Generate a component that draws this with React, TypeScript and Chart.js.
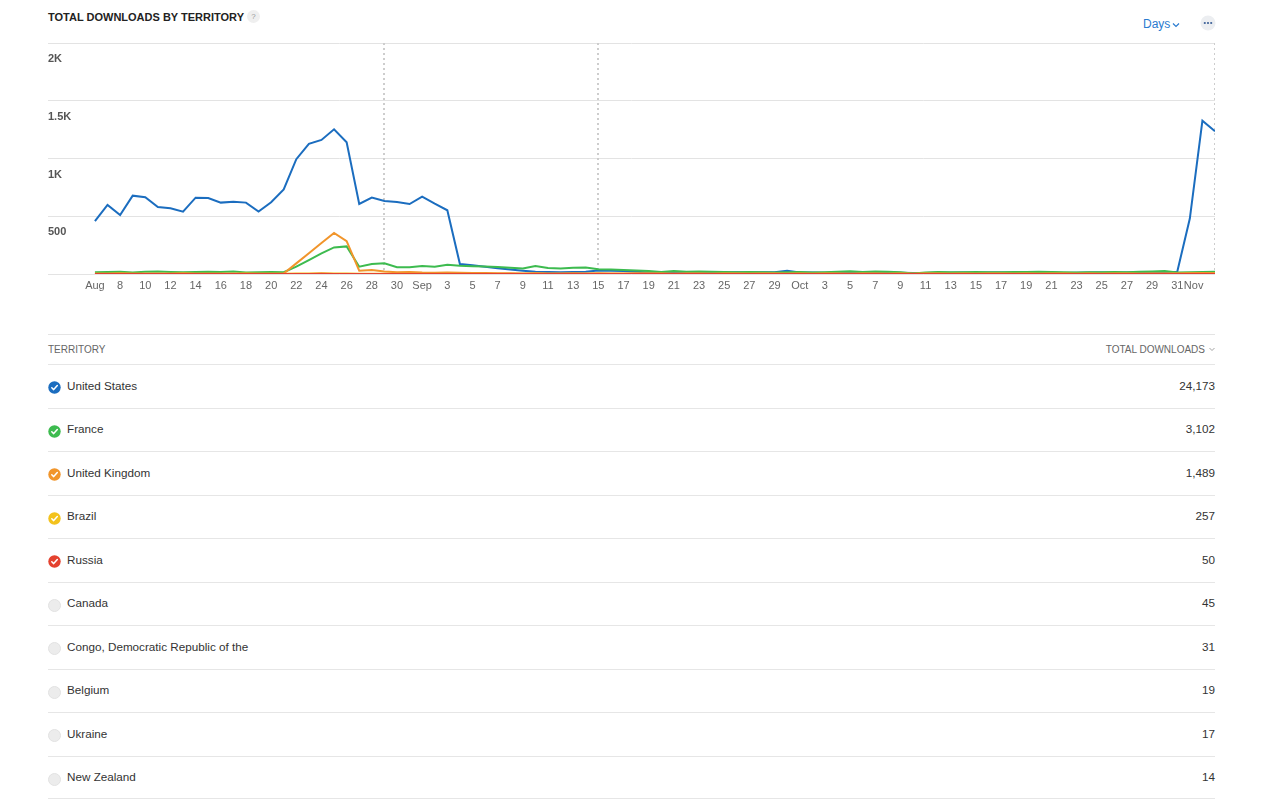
import React, { useEffect, useRef } from "react";
import { Chart, registerables } from "chart.js";

Chart.register(...registerables);

const FONT = '"Liberation Sans", "Helvetica Neue", Helvetica, Arial, sans-serif';

// Days on the x axis (Aug 6 – Nov 3)
const categories = [
  "Aug 6", "Aug 7", "Aug 8", "Aug 9", "Aug 10", "Aug 11", "Aug 12", "Aug 13", "Aug 14", "Aug 15",
  "Aug 16", "Aug 17", "Aug 18", "Aug 19", "Aug 20", "Aug 21", "Aug 22", "Aug 23", "Aug 24", "Aug 25",
  "Aug 26", "Aug 27", "Aug 28", "Aug 29", "Aug 30", "Aug 31",
  "Sep 1", "Sep 2", "Sep 3", "Sep 4", "Sep 5", "Sep 6", "Sep 7", "Sep 8", "Sep 9", "Sep 10",
  "Sep 11", "Sep 12", "Sep 13", "Sep 14", "Sep 15", "Sep 16", "Sep 17", "Sep 18", "Sep 19", "Sep 20",
  "Sep 21", "Sep 22", "Sep 23", "Sep 24", "Sep 25", "Sep 26", "Sep 27", "Sep 28", "Sep 29", "Sep 30",
  "Oct 1", "Oct 2", "Oct 3", "Oct 4", "Oct 5", "Oct 6", "Oct 7", "Oct 8", "Oct 9", "Oct 10",
  "Oct 11", "Oct 12", "Oct 13", "Oct 14", "Oct 15", "Oct 16", "Oct 17", "Oct 18", "Oct 19", "Oct 20",
  "Oct 21", "Oct 22", "Oct 23", "Oct 24", "Oct 25", "Oct 26", "Oct 27", "Oct 28", "Oct 29", "Oct 30",
  "Oct 31", "Nov 1", "Nov 2", "Nov 3",
];

// Dates that carry an x tick label, and their texts
const tickDates = [
  "Aug 6", "Aug 8", "Aug 10", "Aug 12", "Aug 14", "Aug 16", "Aug 18", "Aug 20", "Aug 22", "Aug 24",
  "Aug 26", "Aug 28", "Aug 30",
  "Sep 1", "Sep 3", "Sep 5", "Sep 7", "Sep 9", "Sep 11", "Sep 13", "Sep 15", "Sep 17", "Sep 19",
  "Sep 21", "Sep 23", "Sep 25", "Sep 27", "Sep 29",
  "Oct 1", "Oct 3", "Oct 5", "Oct 7", "Oct 9", "Oct 11", "Oct 13", "Oct 15", "Oct 17", "Oct 19",
  "Oct 21", "Oct 23", "Oct 25", "Oct 27", "Oct 29", "Oct 31",
  "Nov 1",
];
const tickTexts = [
  "Aug", "8", "10", "12", "14", "16", "18", "20", "22", "24", "26", "28", "30",
  "Sep", "3", "5", "7", "9", "11", "13", "15", "17", "19", "21", "23", "25", "27", "29",
  "Oct", "3", "5", "7", "9", "11", "13", "15", "17", "19", "21", "23", "25", "27", "29", "31",
  "Nov",
];

// Version markers (dotted vertical lines)
const markerDates = ["Aug 29", "Sep 15", "Nov 3"];

// Y axis
const yTickValues = [0, 500, 1000, 1500, 2000];
const yTickLabels = ["", "500", "1K", "1.5K", "2K"];

// Series values per day
const unitedStates = [
  457, 598, 511, 678, 664, 580, 569, 540, 661, 658, 618, 626, 618, 540, 621, 733, 994, 1127, 1161, 1253,
  1141, 606, 661, 632, 624, 606,
  670, 609, 552, 86, 75, 62, 50, 38, 28, 20, 18, 16, 18, 20, 30, 28, 25, 20, 14, 14,
  16, 14, 12, 15, 13, 16, 14, 15, 15, 28,
  12, 14, 10, 12, 15, 12, 13, 12, 10, 8, 9, 11, 10, 12, 11, 13, 12, 10, 11, 12,
  10, 9, 11, 13, 12, 10, 14, 12, 13, 15, 20,
  480, 1328, 1235,
];
const france = [
  16, 18, 20, 14, 20, 22, 18, 16, 18, 20, 18, 22, 14, 16, 18, 15, 63, 121, 178, 230,
  239, 63, 86, 92, 59, 59,
  69, 63, 80, 72, 68, 65, 60, 55, 48, 70, 52, 48, 55, 57, 42, 38, 35, 30, 25, 18,
  25, 20, 22, 20, 18, 16, 18, 15, 14, 16,
  18, 14, 16, 20, 24, 18, 22, 20, 16, 5, 14, 18, 16, 15, 17, 16, 15, 18, 17, 19,
  18, 16, 14, 15, 16, 18, 16, 20, 22, 26, 14,
  16, 18, 20,
];
const unitedKingdom = [
  3, 2, 4, 2, 3, 2, 3, 4, 2, 3, 2, 3, 2, 3, 2, 4, 92, 180, 268, 356,
  284, 29, 34, 22, 15, 18,
  12, 10, 12, 10, 9, 8, 6, 7, 5, 6, 5, 4, 6, 5, 7, 5, 4, 6, 5, 4,
  3, 5, 4, 3, 5, 4, 3, 4, 5, 3,
  4, 3, 5, 4, 3, 4, 5, 3, 4, 3, 4, 5, 3, 4, 3, 5, 4, 3, 4, 3,
  5, 4, 3, 4, 3, 5, 4, 3, 4, 5, 4,
  6, 8, 7,
];
const brazil = [
  2, 3, 4, 3, 2, 3, 3, 4, 2, 3, 3, 2, 4, 3, 3, 2, 4, 5, 6, 5,
  4, 3, 3, 2, 3, 4,
  3, 2, 3, 4, 3, 2, 3, 3, 2, 4, 3, 2, 3, 3, 2, 3, 2, 3, 4, 2,
  3, 2, 3, 3, 2, 3, 2, 3, 2, 3,
  2, 3, 3, 2, 3, 2, 3, 2, 2, 3, 3, 2, 3, 2, 3, 3, 2, 3, 2, 2,
  3, 3, 2, 3, 2, 3, 2, 3, 3, 2, 3,
  4, 3, 4,
];
const russia = [
  1, 0, 1, 0, 1, 1, 0, 1, 0, 0, 1, 0, 1, 0, 1, 0, 1, 1, 2, 1,
  1, 0, 1, 0, 1, 0,
  1, 0, 1, 0, 0, 1, 0, 1, 0, 1, 0, 0, 1, 0, 1, 0, 1, 0, 0, 1,
  0, 1, 0, 0, 1, 0, 1, 0, 0, 1,
  0, 1, 0, 0, 1, 0, 1, 0, 0, 1, 0, 0, 1, 0, 1, 0, 0, 1, 0, 1,
  0, 0, 1, 0, 0, 1, 0, 1, 0, 0, 1,
  1, 1, 0,
];

const seriesNames = ["United States", "France", "United Kingdom", "Brazil", "Russia"];
const seriesValues = [unitedStates, france, unitedKingdom, brazil, russia];
const seriesColors = ["#1b6dbf", "#3dbb4f", "#f1952b", "#f3c21c", "#e4422f"];
const seriesOrder = [4, 3, 1, 2, 0];

// Table
const territoryNames = [
  "United States", "France", "United Kingdom", "Brazil", "Russia", "Canada",
  "Congo, Democratic Republic of the", "Belgium", "Ukraine", "New Zealand",
];
const territoryTotals = ["24,173", "3,102", "1,489", "257", "50", "45", "31", "19", "17", "14"];
const territoryColors = ["#1b6dbf", "#3dbb4f", "#f1952b", "#f3c21c", "#e4422f", null, null, null, null, null];

const X_LEFT_PAD_DAYS = 3.73;

const markerPlugin = {
  id: "versionMarkers",
  beforeDatasetsDraw(chart: any) {
    const { ctx, chartArea, scales } = chart;
    const x = scales.x;
    ctx.save();
    ctx.strokeStyle = "#cdcdcd";
    ctx.lineWidth = 2;
    ctx.setLineDash([2, 3]);
    markerDates.forEach((d) => {
      const px = Math.round(x.getPixelForValue(categories.indexOf(d)));
      ctx.beginPath();
      ctx.moveTo(px, chartArea.top);
      ctx.lineTo(px, chartArea.bottom);
      ctx.stroke();
    });
    ctx.restore();
  },
};

function CheckIcon({ color }: { color: string | null }) {
  if (!color) {
    return (
      <svg width="13" height="13" viewBox="0 0 13 13">
        <circle cx="6.5" cy="6.5" r="6" fill="#ececec" stroke="#e2e2e2" strokeWidth="1" />
      </svg>
    );
  }
  return (
    <svg width="13" height="13" viewBox="0 0 13 13">
      <circle cx="6.5" cy="6.5" r="6.2" fill={color} />
      <polyline points="3.8,6.8 5.7,8.6 9.3,4.6" fill="none" stroke="#fff" strokeWidth="1.5" strokeLinecap="round" strokeLinejoin="round" />
    </svg>
  );
}

export default function App() {
  const canvasRef = useRef<HTMLCanvasElement | null>(null);

  useEffect(() => {
    const canvas = canvasRef.current;
    if (!canvas) return;
    const tickIndexes = tickDates.map((d, i) => {
      const idx = categories.indexOf(d);
      const prev = i > 0 ? categories.indexOf(tickDates[i - 1]) : -10;
      // nudge a label that sits only one day after the previous one
      return idx - prev === 1 ? idx + 0.3 : idx;
    });
    const chart = new Chart(canvas, {
      type: "line",
      data: {
        datasets: seriesNames.map((name, s) => ({
          label: name,
          data: seriesValues[s].map((v, i) => ({ x: i, y: v })),
          borderColor: seriesColors[s],
          backgroundColor: seriesColors[s],
          borderWidth: 2,
          pointRadius: 0,
          pointHoverRadius: 0,
          tension: 0,
          fill: false,
          order: seriesOrder[s],
        })),
      },
      options: {
        animation: false,
        responsive: true,
        maintainAspectRatio: false,
        layout: { padding: { top: 7, left: 0, right: 0, bottom: 0 } },
        plugins: {
          legend: { display: false },
          tooltip: { enabled: false },
        },
        scales: {
          x: {
            type: "linear",
            min: -X_LEFT_PAD_DAYS,
            max: categories.length - 1,
            grid: { display: false, drawTicks: false },
            border: { display: false },
            afterBuildTicks: (scale: any) => {
              scale.ticks = tickIndexes.map((v) => ({ value: v }));
            },
            afterFit: (scale: any) => {
              scale.height = 26;
            },
            ticks: {
              autoSkip: false,
              maxRotation: 0,
              minRotation: 0,
              padding: 5,
              color: "#666",
              font: { family: FONT, size: 11 },
              callback: (_v: any, index: number) => tickTexts[index],
            },
          },
          y: {
            min: 0,
            max: 2000,
            grid: { color: "#e3e3e3", lineWidth: 1, drawTicks: false },
            border: { display: false },
            afterBuildTicks: (scale: any) => {
              scale.ticks = yTickValues.map((v) => ({ value: v }));
            },
            afterFit: (scale: any) => {
              scale.width = 0;
            },
            ticks: {
              mirror: true,
              padding: 0,
              labelOffset: 16,
              color: "#555",
              font: { family: FONT, size: 11, weight: "bold" },
              callback: (_v: any, index: number) => yTickLabels[index],
            },
          },
        },
      },
      plugins: [markerPlugin],
    } as any);
    return () => chart.destroy();
  }, []);

  return (
    <div style={{ position: "relative", width: 1264, height: 794, fontFamily: FONT, color: "#333" }}>
      {/* Title */}
      <div style={{ position: "absolute", left: 40, top: 3, fontSize: 11, fontWeight: 700, lineHeight: "13px", color: "#222", whiteSpace: "nowrap" }}>
        TOTAL DOWNLOADS BY TERRITORY
      </div>
      <div style={{ position: "absolute", left: 239, top: 2, width: 13, height: 13, borderRadius: 7, background: "#efefef", color: "#9a9a9a", fontSize: 8, lineHeight: "13px", textAlign: "center" }}>
        ?
      </div>
      {/* Days selector */}
      <div style={{ position: "absolute", left: 1135, top: 9, fontSize: 12, lineHeight: "14px", color: "#2a7bd0", whiteSpace: "nowrap", display: "flex", alignItems: "center" }}>
        <span>Days</span>
        <svg width="8" height="6" viewBox="0 0 8 6" style={{ marginLeft: 2, marginTop: 2 }}>
          <polyline points="1,1.5 4,4.5 7,1.5" fill="none" stroke="#2a7bd0" strokeWidth="1.2" />
        </svg>
      </div>
      {/* More button */}
      <svg width="16" height="16" viewBox="0 0 16 16" style={{ position: "absolute", left: 1192, top: 7 }}>
        <circle cx="8" cy="8" r="7.5" fill="#eceef1" />
        <circle cx="4.8" cy="8" r="1.1" fill="#3b5f96" />
        <circle cx="8" cy="8" r="1.1" fill="#3b5f96" />
        <circle cx="11.2" cy="8" r="1.1" fill="#3b5f96" />
      </svg>
      {/* Chart */}
      <div style={{ position: "absolute", left: 40, top: 28, width: 1167, height: 264 }}>
        <canvas ref={canvasRef} />
      </div>
      {/* Table */}
      <div style={{ position: "absolute", left: 40, top: 326, width: 1167 }}>
        <div style={{ position: "relative", height: 30, borderTop: "1px solid #e4e4e4", boxSizing: "border-box", fontSize: 10, color: "#666" }}>
          <div style={{ position: "absolute", left: 0, top: 0, lineHeight: "29px" }}>TERRITORY</div>
          <div style={{ position: "absolute", right: 0, top: 0, lineHeight: "29px", display: "flex", alignItems: "center" }}>
            <span>TOTAL DOWNLOADS</span>
            <svg width="6" height="5" viewBox="0 0 6 5" style={{ marginLeft: 4 }}>
              <polyline points="0.5,1 3,3.5 5.5,1" fill="none" stroke="#999" strokeWidth="0.9" />
            </svg>
          </div>
        </div>
        {territoryNames.map((name, i) => (
          <div
            key={name}
            style={{
              position: "relative",
              height: 43.5,
              boxSizing: "border-box",
              borderTop: "1px solid #e6e6e6",
              borderBottom: i === territoryNames.length - 1 ? "1px solid #e6e6e6" : undefined,
              fontSize: 11.7,
              color: "#333",
            }}
          >
            <div style={{ position: "absolute", left: 0, top: 16 }}>
              <CheckIcon color={territoryColors[i]} />
            </div>
            <div style={{ position: "absolute", left: 19, top: 12.5, lineHeight: "16px", whiteSpace: "nowrap" }}>{name}</div>
            <div style={{ position: "absolute", right: 0, top: 12.5, lineHeight: "16px" }}>{territoryTotals[i]}</div>
          </div>
        ))}
      </div>
    </div>
  );
}
